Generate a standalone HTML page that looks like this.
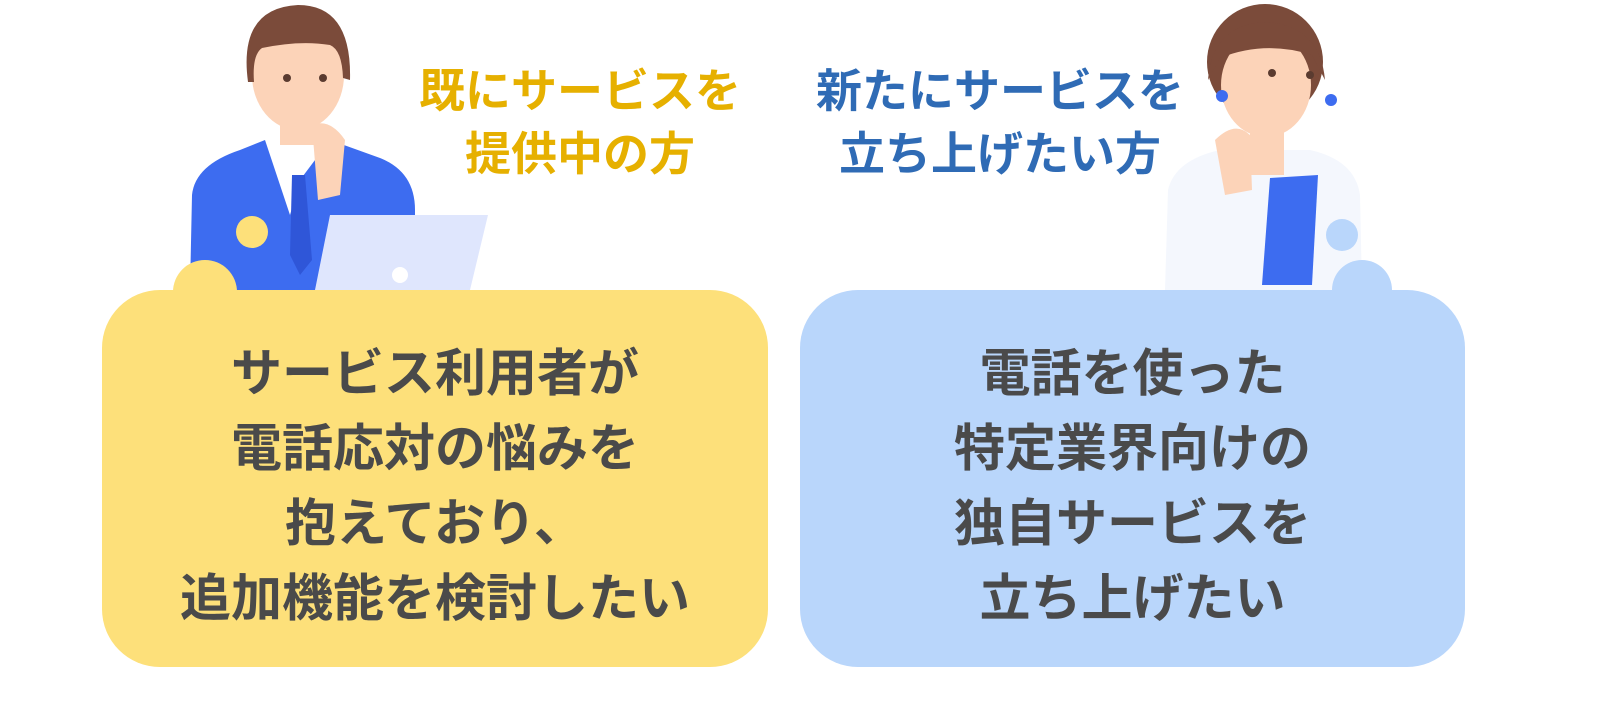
<!DOCTYPE html>
<html><head><meta charset="utf-8"><style>
body{margin:0;width:1600px;height:720px;background:#fff;overflow:hidden;position:relative;font-family:"Liberation Sans","Noto Sans CJK JP",sans-serif;font-weight:bold}
.h{position:absolute;font-size:46px;line-height:63px;text-align:center;width:440px}
.box{position:absolute;top:290px;height:377px;border-radius:58px;display:flex;align-items:center;justify-content:center;text-align:center;color:#4a4a4a;font-size:51px;line-height:75px;box-sizing:border-box;padding-top:14px}
</style></head><body>
<svg width="1600" height="720" style="position:absolute;left:0;top:0">
<!-- man -->
<path d="M190 290 L192 195 Q195 165 240 150 L265 140 L330 140 L380 158 Q415 172 415 210 L415 290 Z" fill="#3d6cf0"/>
<path d="M265 140 L290 215 L300 180 L330 140 Z" fill="#fff"/>
<path d="M292 175 L305 175 L312 260 L300 275 L290 255 Z" fill="#2f56d8"/>
<ellipse cx="298" cy="75" rx="46" ry="55" fill="#fcd3b8"/>
<rect x="280" y="110" width="36" height="35" fill="#fcd3b8"/>
<path d="M248 82 Q238 8 298 5 Q352 5 350 80 L343 78 Q342 50 330 45 Q300 40 262 48 Q252 55 254 82 Z" fill="#7b4b3a"/>
<circle cx="287" cy="78" r="4" fill="#5a3b30"/><circle cx="323" cy="78" r="4" fill="#5a3b30"/>
<path d="M312 125 Q330 118 345 140 L340 195 L318 200 Z" fill="#fcd3b8"/>
<circle cx="252" cy="232" r="16" fill="#fde07a"/>
<polygon points="330,215 488,215 470,290 315,290" fill="#dfe6fd"/>
<circle cx="400" cy="275" r="8" fill="#fff"/>
<circle cx="205" cy="292" r="32" fill="#fde07a"/>
<!-- woman -->
<path d="M1165 290 L1168 190 Q1175 160 1220 150 L1310 150 Q1355 160 1360 195 L1362 290 Z" fill="#f4f7fd"/>
<polygon points="1270,178 1318,175 1312,285 1262,285" fill="#3d6cf0"/>
<ellipse cx="1265" cy="62" rx="58" ry="58" fill="#7b4b3a"/>
<ellipse cx="1266" cy="85" rx="45" ry="52" fill="#fcd3b8"/>
<rect x="1250" y="120" width="34" height="55" fill="#fcd3b8"/>
<path d="M1215 140 Q1235 120 1250 135 L1252 190 L1225 195 Z" fill="#fcd3b8"/>
<path d="M1208 80 Q1212 25 1265 22 Q1320 25 1325 80 L1312 55 Q1265 40 1220 58 Z" fill="#7b4b3a"/>
<circle cx="1272" cy="73" r="4" fill="#5a3b30"/><circle cx="1310" cy="75" r="4" fill="#5a3b30"/>
<circle cx="1222" cy="96" r="6" fill="#3d6cf0"/><circle cx="1331" cy="100" r="6" fill="#3d6cf0"/>
<circle cx="1342" cy="235" r="16" fill="#b9d6fb"/>
<circle cx="1362" cy="290" r="30" fill="#b9d6fb"/>
</svg>
<div class="h" style="left:360px;top:60px;color:#e6b000">既にサービスを<br>提供中の方</div>
<div class="h" style="left:780px;top:60px;color:#2f6bb5">新たにサービスを<br>立ち上げたい方</div>
<div class="box" style="left:102px;width:666px;background:#fde07a">サービス利用者が<br>電話応対の悩みを<br>抱えており、<br>追加機能を検討したい</div>
<div class="box" style="left:800px;width:665px;background:#b9d6fb">電話を使った<br>特定業界向けの<br>独自サービスを<br>立ち上げたい</div>
</body></html>
